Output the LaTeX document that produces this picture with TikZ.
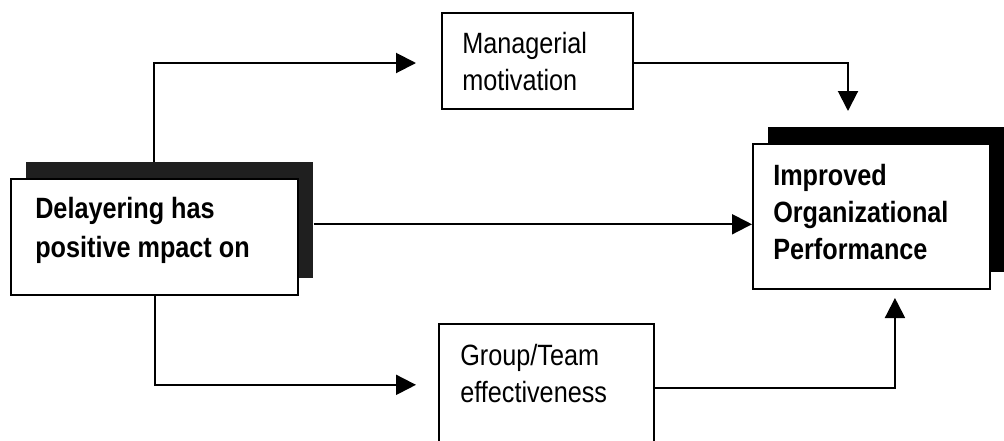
\documentclass[tikz,border=0pt]{standalone}
\usepackage{fontspec}
\setmainfont{Liberation Sans}[FakeStretch=0.86]
\usetikzlibrary{arrows.meta}
\begin{document}
\begin{tikzpicture}[x=0.75pt,y=-0.75pt,
  box/.style={draw=black,line width=1.5pt,fill=white,inner sep=0pt,anchor=north west},
  shadow/.style={fill=#1,draw=none,inner sep=0pt,anchor=north west},
  conn/.style={draw=black,line width=1.5pt,-{Triangle[width=15pt,length=15pt]}},
  label/.style={inner sep=0pt,anchor=base west,font=\fontsize{22}{28}\selectfont}]
\useasboundingbox (0,0) rectangle (1004,440);
\clip (0,0) rectangle (1004,440);

% source box with its speckled shadow
\node[shadow=black!88,minimum width=215.25pt,minimum height=87pt] (shA) at (26,162) {};
\node[box,minimum width=215.25pt,minimum height=87pt] (fA) at (10,178) {};
\node[label] (tA) at (35,218) {\bfseries\begin{tabular}[t]{@{}l@{}}Delayering has\\[1.5pt]positive mpact on\end{tabular}};

% outcome box with its solid shadow
\node[shadow=black,minimum width=180pt,minimum height=108.75pt] (shB) at (768,127) {};
\node[box,minimum width=177.75pt,minimum height=108.75pt] (fB) at (752,143) {};
\node[label] (tB) at (773,185) {\bfseries\begin{tabular}[t]{@{}l@{}}Improved\\Organizational\\Performance\end{tabular}};

% mediating boxes
\node[box,minimum width=143.25pt,minimum height=72pt] (mgr) at (441,12) {};
\node[label] (tM) at (462,53) {\begin{tabular}[t]{@{}l@{}}Managerial\\motivation\end{tabular}};

\node[box,minimum width=161.25pt,minimum height=95.25pt] (grp) at (438,323) {};
\node[label] (tG) at (460,365) {\begin{tabular}[t]{@{}l@{}}Group/Team\\effectiveness\end{tabular}};

% connectors
\draw[conn] ([xshift=96pt]shA.north west) |- ([xshift=-18.75pt,yshift=-1.5pt]mgr.west);
\draw[conn] ([yshift=-1.5pt]mgr.east) -| ([shift={(80,-16)}]shB.north west);
\draw[conn] ([yshift=-3pt]shA.east) -- ([yshift=-3pt]shA.east -| fB.west);
\draw[conn] (fA.south) |- ([xshift=-16.5pt,yshift=2pt]grp.west);
\draw[conn] (grp.east) -| ([xshift=17.6pt,yshift=-6pt]fB.south);
\end{tikzpicture}
\end{document}
